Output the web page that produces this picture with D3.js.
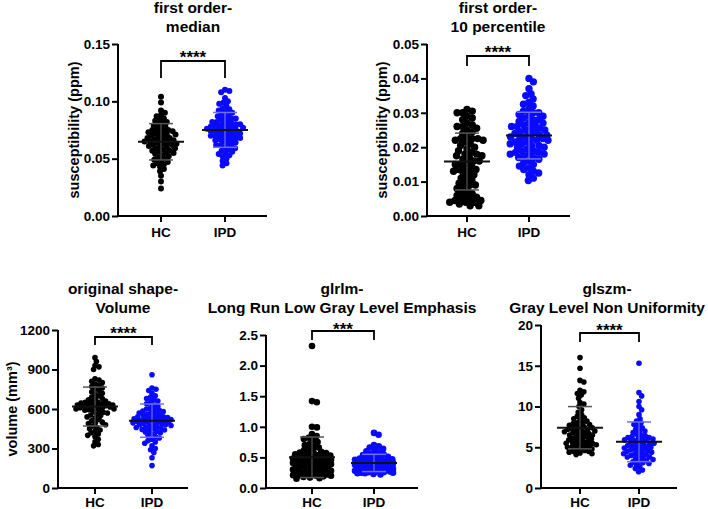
<!DOCTYPE html>
<html><head><meta charset="utf-8">
<script src="https://cdn.jsdelivr.net/npm/d3@7"></script>
<style>body{margin:0;background:#fff}svg{display:block}text{font-family:"Liberation Sans",Arial,sans-serif;font-weight:bold}</style>
</head><body><svg id="c" width="708" height="509"></svg>
<script>
const groups = ["HC", "IPD"];
const colors = ["#000000", "#0a0aff"];

const medianHC = [0.104,0.099,0.092,0.090,0.088,0.087,0.085,0.084,0.083,0.082,0.081,0.080,0.079,0.078,0.077,0.076,0.075,0.075,0.074,0.074,0.073,0.073,0.072,0.071,0.071,0.070,0.070,0.069,0.068,0.068,0.067,0.067,0.066,0.066,0.065,0.065,0.064,0.064,0.063,0.063,0.062,0.062,0.061,0.061,0.060,0.059,0.059,0.058,0.057,0.057,0.056,0.055,0.055,0.054,0.053,0.052,0.051,0.050,0.049,0.048,0.047,0.046,0.045,0.044,0.043,0.041,0.039,0.035,0.030,0.024];
const medianIPD = [0.110,0.109,0.108,0.103,0.100,0.099,0.098,0.096,0.094,0.093,0.092,0.091,0.090,0.089,0.088,0.087,0.086,0.085,0.085,0.084,0.083,0.082,0.082,0.081,0.081,0.080,0.080,0.079,0.079,0.078,0.078,0.077,0.077,0.077,0.076,0.076,0.075,0.075,0.074,0.074,0.073,0.073,0.072,0.072,0.071,0.071,0.070,0.070,0.069,0.069,0.068,0.068,0.067,0.067,0.066,0.065,0.065,0.064,0.063,0.062,0.062,0.061,0.060,0.059,0.058,0.057,0.056,0.055,0.054,0.053,0.052,0.050,0.048,0.046,0.044];

const p10HC = [0.031,0.0305,0.030,0.030,0.029,0.0285,0.028,0.027,0.0265,0.026,0.026,0.0255,0.025,0.0245,0.024,0.023,0.0225,0.0225,0.022,0.022,0.0215,0.021,0.0205,0.020,0.0195,0.019,0.0185,0.018,0.018,0.0175,0.017,0.0165,0.016,0.016,0.0155,0.015,0.015,0.0145,0.014,0.0135,0.013,0.013,0.0125,0.012,0.0115,0.011,0.0105,0.010,0.0095,0.009,0.009,0.0085,0.008,0.0075,0.007,0.0065,0.006,0.006,0.0055,0.005,0.005,0.0045,0.0045,0.004,0.004,0.004,0.0035,0.003,0.003,0.0175,0.0225,0.0135];
const p10IPD = [0.040,0.039,0.037,0.0355,0.035,0.034,0.033,0.0325,0.032,0.031,0.0305,0.030,0.0295,0.029,0.029,0.0285,0.028,0.0275,0.027,0.027,0.0265,0.026,0.026,0.0255,0.025,0.025,0.0245,0.024,0.024,0.0235,0.0235,0.023,0.023,0.0225,0.0225,0.022,0.022,0.0215,0.021,0.021,0.0205,0.020,0.020,0.0195,0.019,0.019,0.0185,0.0185,0.018,0.018,0.018,0.0175,0.017,0.017,0.0165,0.016,0.0155,0.015,0.0145,0.014,0.0135,0.013,0.0125,0.012,0.011,0.0103,0.0245,0.0255,0.028,0.0215,0.0205,0.0265,0.030,0.0225];

const volHC = [990,960,930,920,900,830,820,810,800,790,780,770,760,750,740,730,720,710,700,690,680,675,670,660,655,650,645,640,635,630,630,625,625,620,620,615,610,605,600,595,590,585,580,575,570,560,555,550,540,530,520,510,500,495,490,480,470,460,450,440,430,420,410,400,390,370,350,330,320,620,630,640,610,600,650];
const volIPD = [860,760,750,740,720,700,690,680,670,660,650,640,630,620,610,600,595,590,585,580,575,570,565,560,555,550,545,540,535,530,525,520,520,515,510,505,500,500,495,490,485,480,475,470,465,460,455,450,445,440,435,430,425,420,410,400,390,380,370,360,350,340,320,300,290,270,230,170,510,530,490,520,480,540,500,460];

const lrlHC = [2.32,1.42,1.40,1.00,0.99,0.88,0.85,0.82,0.80,0.78,0.75,0.72,0.70,0.68,0.66,0.64,0.62,0.60,0.59,0.58,0.57,0.56,0.55,0.54,0.53,0.52,0.51,0.50,0.50,0.49,0.48,0.48,0.47,0.46,0.46,0.45,0.44,0.44,0.43,0.42,0.42,0.41,0.40,0.40,0.39,0.38,0.38,0.37,0.36,0.35,0.35,0.34,0.33,0.32,0.31,0.30,0.30,0.29,0.28,0.27,0.26,0.25,0.24,0.23,0.22,0.22,0.21,0.20,0.20,0.19,0.18,0.17,0.16,0.15,0.21];
const lrlIPD = [0.90,0.87,0.70,0.68,0.66,0.64,0.62,0.60,0.58,0.56,0.55,0.54,0.52,0.51,0.50,0.49,0.48,0.47,0.46,0.46,0.45,0.45,0.44,0.44,0.43,0.43,0.42,0.42,0.41,0.41,0.40,0.40,0.39,0.39,0.38,0.38,0.37,0.37,0.36,0.36,0.35,0.35,0.34,0.34,0.33,0.33,0.32,0.32,0.31,0.31,0.30,0.30,0.29,0.29,0.28,0.28,0.27,0.27,0.26,0.26,0.25,0.25,0.24,0.24,0.23,0.22,0.35,0.38,0.40,0.33,0.30,0.28];

const glnHC = [16.0,14.7,13.2,13.0,12.0,11.8,11.6,11.4,11.0,10.5,10.3,10.0,9.6,9.3,9.0,8.8,8.6,8.4,8.2,8.0,7.9,7.8,7.7,7.6,7.5,7.4,7.3,7.2,7.1,7.0,6.9,6.8,6.7,6.6,6.5,6.4,6.3,6.2,6.1,6.0,5.9,5.8,5.7,5.6,5.5,5.5,5.4,5.3,5.2,5.1,5.0,5.0,4.9,4.8,4.7,4.6,4.5,4.4,4.3,4.2,4.1,7.0,7.5,6.5,8.0,5.5,6.8,6.0,7.2,5.2,8.5,4.5];
const glnIPD = [15.3,11.7,11.3,10.6,10.0,9.6,9.0,8.5,8.2,8.0,7.8,7.6,7.4,7.2,7.0,6.8,6.6,6.5,6.4,6.3,6.2,6.1,6.0,5.9,5.8,5.7,5.6,5.5,5.4,5.3,5.2,5.1,5.0,4.9,4.8,4.7,4.6,4.5,4.4,4.3,4.2,4.1,4.0,3.9,3.8,3.7,3.6,3.5,3.4,3.3,3.2,3.1,3.0,2.9,2.8,2.6,2.4,2.2,2.0,5.0,5.5,6.0,4.5,5.8,4.8,6.2,7.0,3.8,5.2,4.2];

const titles = [["first order-","median"],["first order-","10 percentile"],["original shape-","Volume"],["glrlm-","Long Run Low Gray Level Emphasis"],["glszm-","Gray Level Non Uniformity"]];
const yLabels = ["susceptibility (ppm)","susceptibility (ppm)","volume (mm³)","",""];
const yTicks = [[0,0.05,0.10,0.15],[0,0.01,0.02,0.03,0.04,0.05],[0,300,600,900,1200],[0,0.5,1.0,1.5,2.0,2.5],[0,5,10,15,20]];
const tickFormats = [".2f",".2f","d",".1f","d"];
const stars = ["****","****","****","***","****"];
const series = [[medianHC,medianIPD],[p10HC,p10IPD],[volHC,volIPD],[lrlHC,lrlIPD],[glnHC,glnIPD]];

const layout = [
  {ax:118, xEnd:267, yTop:44, yBot:216, gx:[161,225], r:3.0, tx:193, t1:13, t2:32, lx:74, br:[61,78], st:63, lab:21},
  {ax:427, xEnd:570, yTop:44, yBot:216, gx:[467,529], r:3.7, tx:498, t1:13, t2:32, lx:382, br:[56,66], st:58, lab:21},
  {ax:58, xEnd:188, yTop:330, yBot:488, gx:[95,152], r:2.8, tx:123, t1:294, t2:313, lx:12, br:[337,345], st:339, lab:19},
  {ax:266, xEnd:418, yTop:335, yBot:488, gx:[312,374], r:3.3, tx:342, t1:294, t2:313, lx:0, br:[331,340], st:335, lab:19},
  {ax:541, xEnd:677, yTop:325, yBot:488, gx:[580,639], r:2.8, tx:607, t1:294, t2:313, lx:0, br:[333,342], st:336, lab:19}
];

const svg = d3.select("#c");

function swarm(vals, y, cx, r, maxW) {
  const d = r * 1.5;
  const pts = vals.map(v => ({v, y: y(v)})).sort((a,b) => a.y - b.y);
  const placed = [];
  pts.forEach((p, idx) => {
    const near = placed.filter(q => Math.abs(q.y - p.y) < d * 2);
    const cands = [0];
    near.forEach(q => {
      const dy = q.y - p.y;
      if (Math.abs(dy) < d) {
        const dx = Math.sqrt(d*d - dy*dy);
        cands.push(q.dx + dx, q.dx - dx);
      }
    });
    cands.sort((a,b) => Math.abs(a) - Math.abs(b));
    let chosen = null;
    for (const c of cands) {
      if (Math.abs(c) > maxW) continue;
      if (near.every(q => (q.dx - c)**2 + (q.y - p.y)**2 >= d*d - 0.01)) { chosen = c; break; }
    }
    if (chosen === null) {
      // choose the spot within the band with the largest clearance
      let best = -1, bestC = 0;
      for (let c = -maxW; c <= maxW; c += 0.5) {
        let mn = Infinity;
        near.forEach(q => { const dd = (q.dx - c)**2 + (q.y - p.y)**2; if (dd < mn) mn = dd; });
        const score = mn - Math.abs(c) * 0.02;
        if (score > best) { best = score; bestC = c; }
      }
      chosen = bestC;
    }
    p.dx = chosen;
    placed.push(p);
  });
  return placed.map(p => ({v:p.v, x: cx + p.dx, y: p.y}));
}

layout.forEach((L, i) => {
  const g = svg.append("g");
  const dom = yTicks[i];
  const y = d3.scaleLinear().domain([dom[0], dom[dom.length-1]]).range([L.yBot, L.yTop]);
  const x = d3.scaleOrdinal().domain(groups).range(L.gx);

  g.append("text").attr("x", L.tx).attr("y", L.t1).attr("text-anchor","middle").attr("font-size",15.5).text(titles[i][0]);
  g.append("text").attr("x", L.tx).attr("y", L.t2).attr("text-anchor","middle").attr("font-size",15.5).text(titles[i][1]);

  const ya = g.append("g").attr("transform",`translate(${L.ax},0)`)
    .call(d3.axisLeft(y).tickValues(dom).tickFormat(d3.format(tickFormats[i])).tickSize(6).tickPadding(2));
  ya.selectAll("path,line").attr("stroke","#000").attr("stroke-width",2);
  ya.select(".domain").attr("d", `M0,${L.yBot+1}V${L.yTop}`);
  ya.selectAll("text").attr("font-size",13.5).attr("font-family","'Liberation Sans',Arial,sans-serif").attr("font-weight","bold").attr("fill","#000");

  const xa = g.append("g").attr("transform",`translate(0,${L.yBot})`);
  xa.append("line").attr("x1",L.ax-1).attr("x2",L.xEnd).attr("stroke","#000").attr("stroke-width",2);
  groups.forEach(gr => {
    xa.append("line").attr("x1",x(gr)).attr("x2",x(gr)).attr("y1",0).attr("y2",6).attr("stroke","#000").attr("stroke-width",2);
    xa.append("text").attr("x",x(gr)).attr("y",L.lab).attr("text-anchor","middle").attr("font-size",13.5).text(gr);
  });

  if (yLabels[i]) {
    const cy = (L.yTop + L.yBot)/2;
    g.append("text").attr("transform",`translate(${L.lx},${cy}) rotate(-90)`).attr("text-anchor","middle")
      .attr("dy","0.35em").attr("font-size",14.5).text(yLabels[i]);
  }

  groups.forEach((gr, k) => {
    const pts = swarm(series[i][k], y, x(gr), L.r, 19);
    g.append("g").selectAll("circle").data(pts).join("circle")
      .attr("cx", d => d.x).attr("cy", d => d.y).attr("r", L.r).attr("fill", colors[k]);
    const m = d3.mean(series[i][k]), s = d3.deviation(series[i][k]);
    const sc = k === 0 ? "#555" : "#6f6fe8";
    g.append("line").attr("x1",x(gr)).attr("x2",x(gr)).attr("y1",y(m-s)).attr("y2",y(m+s)).attr("stroke",sc).attr("stroke-width",1.2);
    [m-s, m+s].forEach(v => g.append("line").attr("x1",x(gr)-12).attr("x2",x(gr)+12).attr("y1",y(v)).attr("y2",y(v)).attr("stroke",sc).attr("stroke-width",1.5));
    g.append("line").attr("x1",x(gr)-23).attr("x2",x(gr)+23).attr("y1",y(m)).attr("y2",y(m)).attr("stroke","#111").attr("stroke-width",2);
  });

  g.append("path").attr("d",`M${x("HC")},${L.br[1]}V${L.br[0]}H${x("IPD")}V${L.br[1]}`)
    .attr("fill","none").attr("stroke","#000").attr("stroke-width",1.8);
  g.append("text").attr("x",(L.gx[0]+L.gx[1])/2).attr("y",L.st).attr("text-anchor","middle").attr("font-size",17).text(stars[i]);
});
</script></body></html>
